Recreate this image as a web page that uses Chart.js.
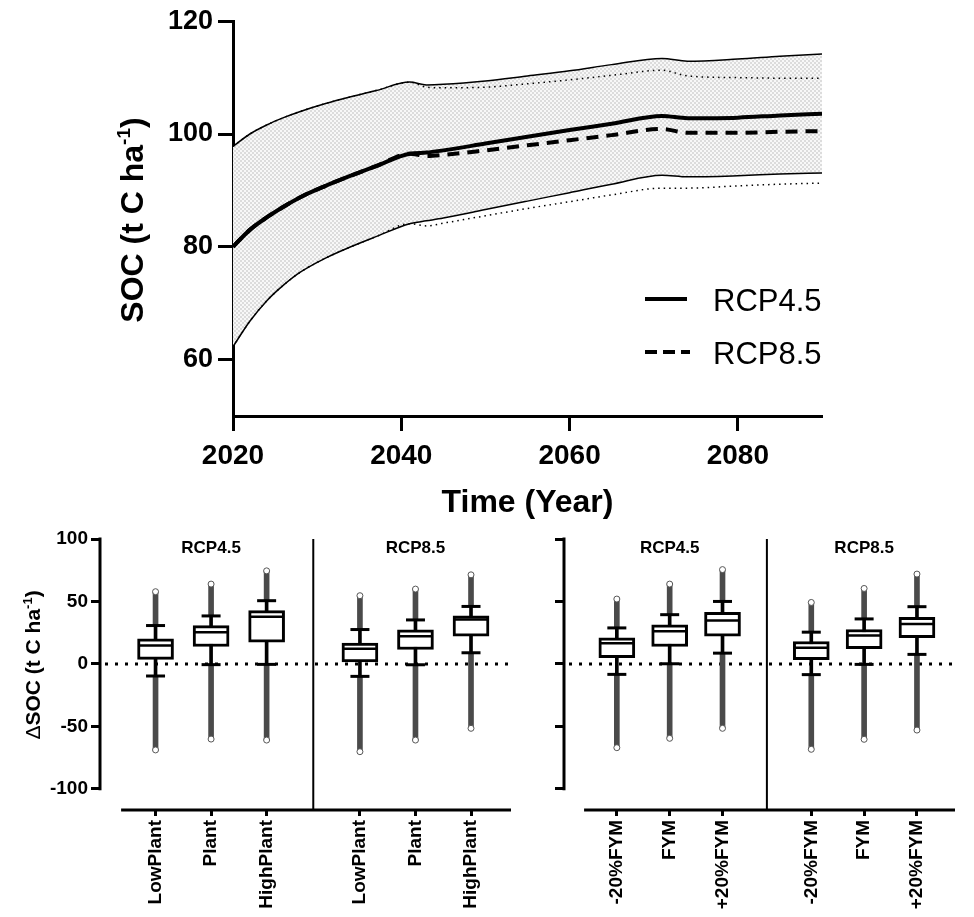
<!DOCTYPE html>
<html>
<head>
<meta charset="utf-8">
<script src="https://cdn.jsdelivr.net/npm/chart.js@4.4.1/dist/chart.umd.min.js"></script>
<style>
body{margin:0;background:#fff;}
#lienzo{position:relative;width:974px;height:917px;}
canvas{position:absolute;}
</style>
</head>
<body>
<div id="lienzo">
<canvas id="graficaSOC" width="974" height="520" style="left:0;top:0"></canvas>
<canvas id="graficaPlant" width="540" height="397" style="left:0;top:520px"></canvas>
<canvas id="graficaFYM" width="434" height="397" style="left:540px;top:520px"></canvas>
</div>
<script>
const FUENTE="'Liberation Sans', Arial, sans-serif";

//Serie temporal de SOC
const anios=[2020,2022,2024,2026,2028,2031,2034,2037,2041,2043,2045,2050,2055,2060,2065,2071,2074,2080,2085,2090];
const media45=[80.0,83.0,85.2,87.1,88.8,90.8,92.6,94.3,96.5,96.7,97.1,98.3,99.5,100.7,101.8,103.2,102.8,102.9,103.3,103.6];
const media85=[80.0,83.0,85.2,87.1,88.8,90.8,92.6,94.3,96.5,96.1,96.3,97.1,98.0,98.9,99.8,100.9,100.2,100.2,100.4,100.5];
const superior45=[97.8,100.0,101.6,102.9,104.0,105.4,106.6,107.7,109.2,108.7,108.8,109.4,110.3,111.2,112.3,113.4,112.9,113.3,113.8,114.2];
const superior85=[97.8,100.0,101.6,102.9,104.0,105.4,106.6,107.7,109.2,108.3,108.2,108.3,108.9,109.6,110.4,111.3,110.3,110.0,109.9,109.9];
const inferior45=[62.3,66.8,70.4,73.2,75.5,78.0,80.0,81.8,84.1,84.6,85.1,86.6,88.1,89.6,91.1,92.7,92.4,92.6,92.9,93.1];
const inferior85=[62.3,66.8,70.4,73.2,75.5,78.0,80.0,81.8,84.1,83.7,84.2,85.5,86.8,88.0,89.2,90.4,90.4,90.8,91.1,91.3];
const ticksAnios=[2020,2040,2060,2080];
const ticksSOC=[60,80,100,120];

//Diagramas de caja
const escenarios=['RCP4.5','RCP8.5'];
const posiciones=[1,2,3,4.68,5.68,6.68];
const divisor=3.84;
const inicioEjeX=0.38;
const ticksDelta=[-100,-50,0,50,100];

const etiquetasPlant=['LowPlant','Plant','HighPlant','LowPlant','Plant','HighPlant'];
const plantMin=[-68.9,-60.2,-61.0,-70.3,-61.0,-51.6];
const plantBajo=[-9.7,-0.6,-0.4,-10.0,-0.7,8.9];
const plantQ1=[3.6,13.9,17.4,1.5,11.5,22.2];
const plantMediana=[14.7,25.4,37.8,12.1,22.2,35.5];
const plantQ3=[20.1,30.7,42.6,16.6,27.2,38.4];
const plantAlto=[30.7,38.4,50.6,27.5,35.2,46.0];
const plantMax=[57.8,63.9,74.5,54.6,59.9,71.3];

const etiquetasFYM=['-20%FYM','FYM','+20%FYM','-20%FYM','FYM','+20%FYM'];
const fymMin=[-67.1,-59.6,-51.6,-68.4,-60.4,-53.0];
const fymBajo=[-8.4,0.1,8.6,-8.6,-0.4,7.6];
const fymQ1=[4.9,13.9,22.2,3.3,12.1,20.9];
const fymMediana=[16.6,26.1,34.7,12.9,22.7,32.0];
const fymQ3=[20.9,31.2,41.3,17.9,27.5,37.3];
const fymAlto=[28.8,39.4,50.0,25.4,36.0,45.8];
const fymMax=[51.9,63.9,75.5,49.2,60.4,71.9];

//Trama gris del relleno
const celda=document.createElement('canvas');
celda.width=4;celda.height=4;
const cc=celda.getContext('2d');
cc.fillStyle='#f8f8f8';cc.fillRect(0,0,4,4);
cc.fillStyle='#dcdcdc';cc.fillRect(0,0,2,2);cc.fillRect(2,2,2,2);
const trama=cc.createPattern(celda,'repeat');

function tituloVertical(ctx,partes,x,yCentro){
    ctx.save();
    ctx.translate(x,yCentro);
    ctx.rotate(-Math.PI/2);
    ctx.textAlign='left';
    ctx.textBaseline='alphabetic';
    let total=0;
    partes.forEach(p=>{ctx.font=p.font;p.w=ctx.measureText(p.t).width;total+=p.w;});
    let cx=-total/2;
    partes.forEach(p=>{ctx.font=p.font;ctx.fillText(p.t,cx,-(p.sube||0));cx+=p.w;});
    ctx.restore();
}

const decoracionSOC={
    id:'decoracionSOC',
    afterDraw(chart){
        const {ctx,chartArea}=chart;
        ctx.save();
        ctx.fillStyle='#000';
        ctx.strokeStyle='#000';
        ctx.font=`bold 32px ${FUENTE}`;
        ctx.textAlign='center';
        ctx.textBaseline='alphabetic';
        ctx.fillText('Time (Year)',(chartArea.left+chartArea.right)/2,512);

        tituloVertical(ctx,[
            {t:'SOC (t C ha',font:`bold 32px ${FUENTE}`},
            {t:'-1',font:`bold 19px ${FUENTE}`,sube:13},
            {t:')',font:`bold 32px ${FUENTE}`}
        ],143,220);

        //Leyenda
        ctx.lineWidth=4;
        ctx.beginPath();ctx.moveTo(645,299);ctx.lineTo(687,299);ctx.stroke();
        ctx.setLineDash([12,6]);
        ctx.beginPath();ctx.moveTo(645,352);ctx.lineTo(690,352);ctx.stroke();
        ctx.setLineDash([]);
        ctx.font=`31px ${FUENTE}`;
        ctx.textAlign='left';
        ctx.fillText(escenarios[0],713,311);
        ctx.fillText(escenarios[1],713,364);
        ctx.restore();
    }
};

const puntos=vals=>anios.map((a,i)=>({x:a,y:vals[i]}));
const linea=(label,vals,ancho,guiones,extra)=>Object.assign({
    label,
    data:puntos(vals),
    borderColor:'#000',
    borderWidth:ancho,
    borderDash:guiones,
    pointRadius:0,
    fill:false,
    cubicInterpolationMode:'monotone'
},extra||{});

new Chart(document.getElementById('graficaSOC'),{
    type:'line',
    data:{
        datasets:[
            linea('sup45',superior45,1.5,[],{fill:1,backgroundColor:trama}),
            linea('inf45',inferior45,1.5,[]),
            linea('sup85',superior85,1.5,[1.5,4]),
            linea('inf85',inferior85,1.5,[1.5,4]),
            linea(escenarios[0],media45,4,[]),
            linea(escenarios[1],media85,4,[12,8])
        ]
    },
    options:{
        responsive:false,
        animation:false,
        events:[],
        layout:{padding:{top:21,right:152,left:0,bottom:0}},
        plugins:{
            legend:{display:false},
            tooltip:{enabled:false},
            filler:{drawTime:'beforeDatasetsDraw'}
        },
        scales:{
            x:{
                type:'linear',min:2020,max:2090,
                afterBuildTicks:s=>{s.ticks=ticksAnios.map(v=>({value:v}));},
                afterFit:s=>{s.height=104;},
                ticks:{font:{family:FUENTE,size:28,weight:'bold'},color:'#000',padding:8,callback:v=>String(v)},
                grid:{drawOnChartArea:false,tickLength:15,tickWidth:3,tickColor:'#000'},
                border:{width:3,color:'#000'}
            },
            y:{
                type:'linear',min:50,max:120,
                afterBuildTicks:s=>{s.ticks=ticksSOC.map(v=>({value:v}));},
                afterFit:s=>{s.width=233;},
                ticks:{font:{family:FUENTE,size:27,weight:'bold'},color:'#000',padding:5,callback:v=>String(v)},
                grid:{drawOnChartArea:false,tickLength:15,tickWidth:3,tickColor:'#000'},
                border:{width:3,color:'#000'}
            }
        }
    },
    plugins:[decoracionSOC]
});

const decoracionCajas={
    id:'decoracionCajas',
    beforeDatasetsDraw(chart){
        const {ctx,chartArea:{left,right,bottom},scales:{x,y}}=chart;
        ctx.save();
        ctx.strokeStyle='#000';
        //linea punteada en cero
        ctx.lineWidth=3;
        ctx.setLineDash([3,7]);
        ctx.beginPath();
        ctx.moveTo(left+5,y.getPixelForValue(0));
        ctx.lineTo(right,y.getPixelForValue(0));
        ctx.stroke();
        ctx.setLineDash([]);
        //separador de escenarios
        ctx.lineWidth=2;
        ctx.beginPath();
        ctx.moveTo(x.getPixelForValue(divisor),y.getPixelForValue(100));
        ctx.lineTo(x.getPixelForValue(divisor),bottom);
        ctx.stroke();
        //ejes
        ctx.lineWidth=3;
        ctx.beginPath();
        ctx.moveTo(left,y.getPixelForValue(100)-1.5);
        ctx.lineTo(left,y.getPixelForValue(-100)+1.5);
        ctx.stroke();
        ctx.beginPath();
        ctx.moveTo(x.getPixelForValue(inicioEjeX),bottom);
        ctx.lineTo(right,bottom);
        ctx.stroke();
        ctx.restore();
    },
    afterDraw(chart,args,opts){
        const {ctx,scales:{x,y}}=chart;
        ctx.save();
        ctx.fillStyle='#000';
        ctx.font=`bold 17px ${FUENTE}`;
        ctx.textAlign='center';
        ctx.textBaseline='alphabetic';
        ctx.fillText(escenarios[0],x.getPixelForValue(posiciones[1]),y.getPixelForValue(100)+14);
        ctx.fillText(escenarios[1],x.getPixelForValue(posiciones[4]),y.getPixelForValue(100)+14);
        if(opts.tituloY){
            tituloVertical(ctx,[
                {t:'\u0394',font:`21px ${FUENTE}`},
                {t:'SOC (t C ha',font:`bold 21px ${FUENTE}`},
                {t:'-1',font:`bold 13px ${FUENTE}`,sube:8},
                {t:')',font:`bold 21px ${FUENTE}`}
            ],40,145);
        }
        ctx.restore();
    }
};

function cajas(idCanvas,etiquetas,mn,bajo,q1,mediana,q3,alto,mx,conEje,izquierda,derecha){
    const par=(a,b)=>posiciones.map((x,i)=>({x,y:[a[i],b[i]]}));
    const pts=a=>posiciones.map((x,i)=>({x,y:a[i]}));
    const fuenteTicks={family:FUENTE,weight:'bold'};

    return new Chart(document.getElementById(idCanvas),{
        type:'bar',
        data:{
            datasets:[
                {label:'atipicos',data:par(mn,bajo).concat(par(alto,mx)),backgroundColor:'#4a4a4a',barThickness:5,maxBarThickness:5,grouped:false,order:6},
                {type:'scatter',label:'extremos',data:pts(mn).concat(pts(mx)),pointRadius:3,pointBackgroundColor:'#fff',pointBorderColor:'#555',pointBorderWidth:1,order:5},
                {label:'bigotes',data:par(bajo,alto),backgroundColor:'#000',barThickness:3,maxBarThickness:3,grouped:false,order:4},
                {label:'cajas',data:par(q1,q3),backgroundColor:'#fff',borderColor:'#000',borderWidth:3,borderSkipped:false,barThickness:36,maxBarThickness:36,grouped:false,order:3},
                {type:'scatter',label:'mediana',data:pts(mediana),pointStyle:'line',pointRadius:16.5,pointBorderWidth:2.5,pointBorderColor:'#000',order:2},
                {type:'scatter',label:'topes',data:pts(bajo).concat(pts(alto)),pointStyle:'line',pointRadius:9.5,pointBorderWidth:3,pointBorderColor:'#000',order:1}
            ]
        },
        options:{
            responsive:false,
            animation:false,
            events:[],
            layout:{padding:{top:18,right:derecha,left:0,bottom:0}},
            plugins:{
                legend:{display:false},
                tooltip:{enabled:false},
                decoracionCajas:{tituloY:conEje}
            },
            scales:{
                x:{
                    type:'linear',min:0,max:7.4,offset:false,
                    afterBuildTicks:s=>{s.ticks=posiciones.map(v=>({value:v}));},
                    afterFit:s=>{s.height=107;},
                    ticks:{autoSkip:false,minRotation:90,maxRotation:90,padding:4,font:Object.assign({size:19},fuenteTicks),color:'#000',callback:(v,i)=>etiquetas[i]},
                    grid:{drawOnChartArea:false,offset:false,tickLength:6,tickWidth:3,tickColor:'#000'},
                    border:{display:false}
                },
                y:{
                    type:'linear',min:-117,max:100,
                    afterBuildTicks:s=>{s.ticks=ticksDelta.map(v=>({value:v}));},
                    afterFit:s=>{s.width=izquierda;},
                    ticks:{display:conEje,padding:3,font:Object.assign({size:19},fuenteTicks),color:'#000',callback:v=>String(v)},
                    grid:{drawOnChartArea:false,tickLength:9,tickWidth:3,tickColor:'#000'},
                    border:{display:false}
                }
            }
        },
        plugins:[decoracionCajas]
    });
}

cajas('graficaPlant',etiquetasPlant,plantMin,plantBajo,plantQ1,plantMediana,plantQ3,plantAlto,plantMax,true,100,29);
cajas('graficaFYM',etiquetasFYM,fymMin,fymBajo,fymQ1,fymMediana,fymQ3,fymAlto,fymMax,false,24,0);
</script>
</body>
</html>
